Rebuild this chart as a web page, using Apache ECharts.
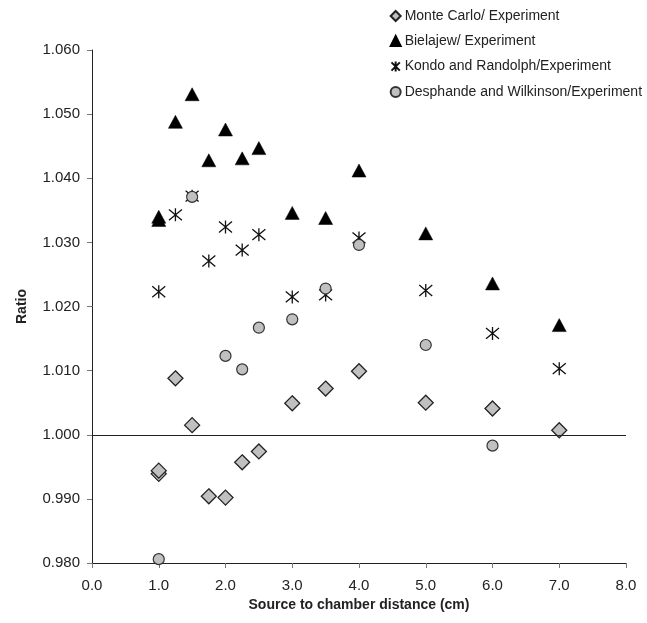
<!DOCTYPE html>
<html>
<head>
<meta charset="utf-8">
<script src="https://cdn.jsdelivr.net/npm/echarts@6/dist/echarts.min.js"></script>
<style>
  html, body { margin: 0; padding: 0; background: #fff; }
  #chart { width: 647px; height: 623px; }
</style>
</head>
<body>
<div id="chart"></div>
<script>
/* Ratio vs source-to-chamber distance — four calculation methods against experiment */

var mcX = [1.0, 1.0, 1.25, 1.5, 1.75, 2.0, 2.25, 2.5, 3.0, 3.5, 4.0, 5.0, 6.0, 7.0];
var mcY = [0.9939, 0.9944, 1.0088, 1.0015, 0.9904, 0.9902, 0.9957, 0.9974, 1.0049, 1.0072, 1.0099, 1.0050, 1.0041, 1.0007];

var bjX = [1.0, 1.0, 1.25, 1.5, 1.75, 2.0, 2.25, 2.5, 3.0, 3.5, 4.0, 5.0, 6.0, 7.0];
var bjY = [1.0335, 1.0340, 1.0488, 1.0531, 1.0428, 1.0476, 1.0431, 1.0447, 1.0346, 1.0338, 1.0412, 1.0314, 1.0236, 1.0171];

var krX = [1.0, 1.25, 1.5, 1.75, 2.0, 2.25, 2.5, 3.0, 3.5, 4.0, 5.0, 6.0, 7.0];
var krY = [1.0223, 1.0343, 1.0372, 1.0271, 1.0324, 1.0288, 1.0312, 1.0215, 1.0218, 1.0307, 1.0225, 1.0158, 1.0103];

var dwX = [1.0, 1.5, 2.0, 2.25, 2.5, 3.0, 3.5, 4.0, 5.0, 6.0];
var dwY = [0.9806, 1.0371, 1.0123, 1.0102, 1.0167, 1.0180, 1.0228, 1.0296, 1.0140, 0.9983];

var seriesNames = [
  'Monte Carlo/ Experiment',
  'Bielajew/ Experiment',
  'Kondo and Randolph/Experiment',
  'Desphande and Wilkinson/Experiment'
];

var refRatio = 1.0;
var xMin = 0, xMax = 8, xStep = 1;
var yMin = 0.98, yMax = 1.06, yStep = 0.01;

(function () {
  'use strict';

  var FONT = '"Liberation Sans", Arial, sans-serif';
  var ASTERISK = 'path://M0,0L10,10M10,0L0,10M5,-1L5,11';

  function pairs(xs, ys) {
    return xs.map(function (x, i) { return [x, ys[i]]; });
  }

  var chart = echarts.init(document.getElementById('chart'), null, { renderer: 'canvas' });

  chart.setOption({
    animation: false,
    backgroundColor: '#fff',
    textStyle: { fontFamily: FONT },
    grid: { left: 92, right: 21, top: 50, bottom: 60, containLabel: false },
    legend: {
      orient: 'vertical',
      left: 384,
      top: 4,
      itemWidth: 10,
      itemHeight: 10,
      itemGap: 11,
      textStyle: { fontFamily: FONT, fontSize: 14, color: '#222', padding: [0, 0, 0, -1] },
      data: seriesNames
    },
    xAxis: {
      type: 'value',
      min: xMin,
      max: xMax,
      interval: xStep,
      name: 'Source to chamber distance (cm)',
      nameLocation: 'middle',
      nameGap: 34,
      nameTextStyle: { fontFamily: FONT, fontSize: 14, fontWeight: 'bold', color: '#222' },
      axisLine: { lineStyle: { color: '#222', width: 1 } },
      axisTick: { show: true, length: 5, lineStyle: { color: '#777' } },
      axisLabel: {
        margin: 15,
        fontSize: 15,
        color: '#222',
        formatter: function (v) { return v.toFixed(1); }
      },
      splitLine: { show: false }
    },
    yAxis: {
      type: 'value',
      min: yMin,
      max: yMax,
      interval: yStep,
      name: 'Ratio',
      nameLocation: 'middle',
      nameRotate: 90,
      nameGap: 63,
      nameTextStyle: { fontFamily: FONT, fontSize: 14, fontWeight: 'bold', color: '#222' },
      axisLine: { show: true, lineStyle: { color: '#222', width: 1 } },
      axisTick: { show: true, length: 5, lineStyle: { color: '#777' } },
      axisLabel: {
        margin: 12,
        fontSize: 15,
        color: '#222',
        formatter: function (v) { return v.toFixed(3); }
      },
      splitLine: { show: false }
    },
    series: [
      {
        name: seriesNames[0],
        type: 'scatter',
        symbol: 'diamond',
        symbolSize: 15,
        data: pairs(mcX, mcY),
        itemStyle: { color: '#c0c0c0', borderColor: '#222', borderWidth: 1.3, opacity: 1 },
        markLine: {
          silent: true,
          symbol: ['none', 'none'],
          label: { show: false },
          lineStyle: { color: '#222', type: 'solid', width: 1.2 },
          data: [{ yAxis: refRatio }]
        }
      },
      {
        name: seriesNames[1],
        type: 'scatter',
        symbol: 'triangle',
        symbolSize: [14, 13],
        data: pairs(bjX, bjY),
        itemStyle: { color: '#000', borderColor: '#000', borderWidth: 0.5, opacity: 1 }
      },
      {
        name: seriesNames[2],
        type: 'scatter',
        symbol: ASTERISK,
        symbolSize: 13,
        data: pairs(krX, krY),
        itemStyle: { color: 'none', borderColor: '#111', borderWidth: 1.3, opacity: 1 }
      },
      {
        name: seriesNames[3],
        type: 'scatter',
        symbol: 'circle',
        symbolSize: 11,
        data: pairs(dwX, dwY),
        itemStyle: { color: '#c0c0c0', borderColor: '#333', borderWidth: 1.2, opacity: 1 }
      }
    ]
  });

  window.addEventListener('resize', function () { chart.resize(); });
})();
</script>
</body>
</html>
